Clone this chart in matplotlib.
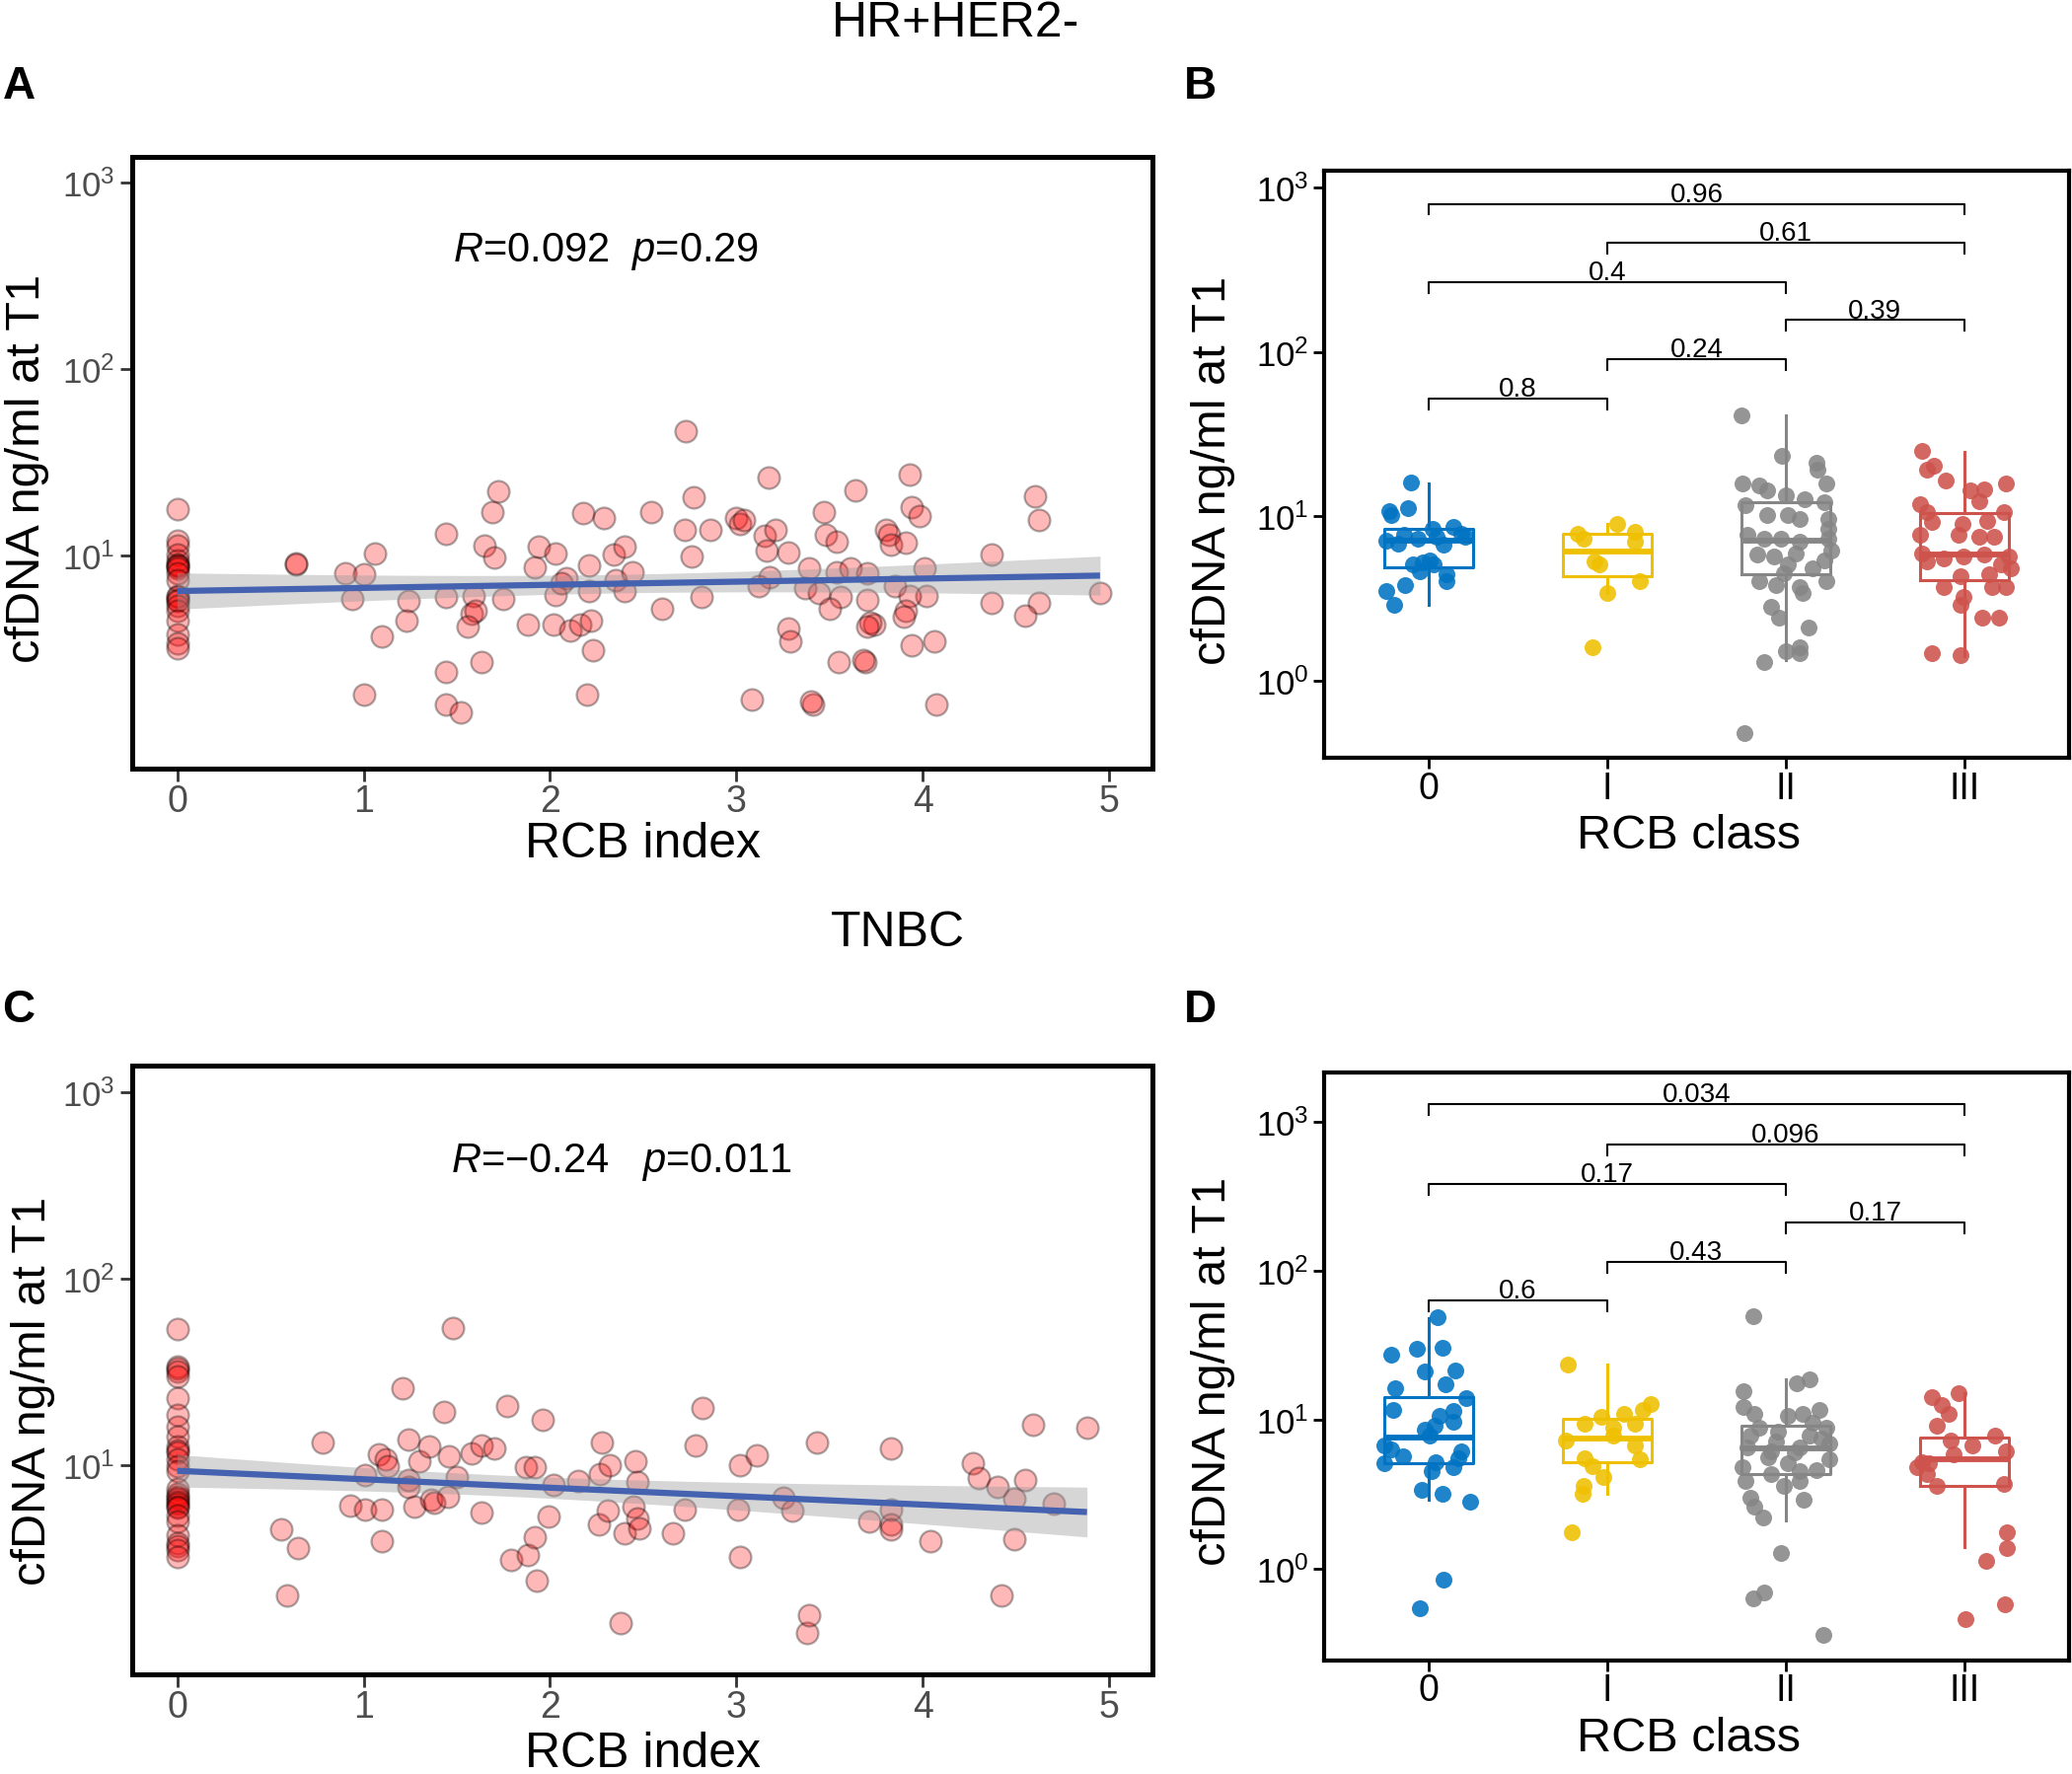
import numpy as np
import matplotlib
matplotlib.use('Agg')
import matplotlib.pyplot as plt
from matplotlib import font_manager as fm
from matplotlib.ticker import NullLocator

# ---------------- fonts ----------------
_names = {f.name for f in fm.fontManager.ttflist}
SANS = 'Liberation Sans' if 'Liberation Sans' in _names else 'DejaVu Sans'
NARROW = 'Liberation Sans Narrow' if 'Liberation Sans Narrow' in _names else SANS
plt.rcParams['font.family'] = [SANS, 'DejaVu Sans']
plt.rcParams['mathtext.fontset'] = 'custom'
plt.rcParams['mathtext.rm'] = SANS
plt.rcParams['mathtext.it'] = SANS + ':italic'
plt.rcParams['mathtext.default'] = 'regular'

# ---------------- data ----------------
# Panel A: HR+HER2-, RCB index vs cfDNA
hr_rcb_index = [
    0, 0, 0, 0, 0, 0, 0, 0, 0, 0, 0, 0, 0, 0, 0, 0, 0, 0, 0, 0, 0,
    0.64, 0.64, 0.90, 1.06, 1.00, 0.94, 1.10, 1.00,
    1.24, 1.23, 1.44, 1.44, 1.44, 1.44, 1.52, 1.63, 1.59, 1.58, 1.60, 1.56, 1.65, 1.70, 1.69, 1.72, 1.75,
    1.88, 1.92, 1.94, 2.03, 2.02, 2.03, 2.09, 2.06, 2.11, 2.18, 2.29, 2.21, 2.21, 2.16, 2.22, 2.23, 2.20,
    2.34, 2.40, 2.35, 2.40, 2.44, 2.54, 2.60,
    2.73, 2.77, 2.72, 2.86, 2.76, 2.81, 3.00, 3.02, 3.04, 3.15, 3.21, 3.16, 3.28, 3.17, 3.18, 3.12, 3.08,
    3.28, 3.29, 3.39, 3.37, 3.44, 3.41, 3.40, 3.47, 3.48, 3.54, 3.54, 3.61, 3.56, 3.50, 3.64, 3.70, 3.70,
    3.74, 3.72, 3.70, 3.55, 3.69, 3.68,
    3.80, 3.82, 3.83, 3.91, 3.85, 3.93, 3.94, 3.98, 4.01, 4.02, 3.93, 3.91, 3.90, 3.94, 4.06, 4.07,
    4.37, 4.37, 4.60, 4.62, 4.62, 4.55, 4.95]
hr_cfdna = [
    17.7, 12.1, 11.3, 10.1, 9.5, 9.0, 8.9, 8.8, 8.6, 8.1, 7.4, 6.1, 6.0, 5.8, 5.7, 5.4, 5.1, 4.5, 3.8, 3.4, 3.2,
    9.0, 9.1, 8.1, 10.3, 8.0, 5.9, 3.7, 1.8,
    5.7, 4.5, 13.1, 6.0, 2.4, 1.6, 1.45, 2.7, 6.1, 4.9, 5.1, 4.2, 11.4, 9.8, 17.1, 22.2, 5.9,
    4.3, 8.7, 11.2, 10.3, 4.3, 6.2, 7.6, 7.1, 4.0, 16.9, 15.9, 8.9, 6.5, 4.3, 4.5, 3.1, 1.8,
    10.1, 11.2, 7.4, 6.5, 8.2, 17.1, 5.2,
    46.3, 20.7, 13.8, 13.7, 9.9, 6.0, 15.9, 14.8, 15.6, 12.8, 13.7, 10.7, 10.4, 26.2, 7.7, 6.9, 1.7,
    4.1, 3.5, 8.6, 6.7, 6.3, 1.6, 1.65, 17.2, 12.9, 11.9, 8.2, 8.6, 6.0, 5.2, 22.4, 8.1, 5.8,
    4.3, 4.4, 4.2, 2.7, 2.7, 2.75,
    13.8, 13.0, 11.5, 11.8, 6.9, 27.3, 18.2, 16.4, 8.6, 6.1, 6.1, 5.1, 4.7, 3.3, 3.5, 1.6,
    10.1, 5.6, 20.9, 15.6, 5.6, 4.8, 6.3]
hr_stat_text = r'$\mathit{R}$=0.092  $\mathit{p}$=0.29'

# Panel C: TNBC, RCB index vs cfDNA
tn_rcb_index = [
    0, 0, 0, 0, 0, 0, 0, 0, 0, 0, 0, 0, 0, 0, 0, 0, 0, 0, 0, 0, 0, 0, 0, 0, 0, 0, 0, 0, 0, 0,
    0.78, 0.56, 0.65, 0.59, 0.93, 1.01, 1.01, 1.10, 1.10, 1.08, 1.12, 1.13,
    1.21, 1.24, 1.24, 1.24, 1.27, 1.30, 1.35, 1.36, 1.38, 1.43, 1.45, 1.46, 1.48, 1.50,
    1.58, 1.63, 1.63, 1.70, 1.77, 1.79, 1.87, 1.88, 1.92, 1.92, 1.93, 1.96, 1.99, 2.02, 2.15,
    2.26, 2.27, 2.28, 2.31, 2.32, 2.38, 2.40, 2.45, 2.46, 2.47, 2.47, 2.48,
    2.66, 2.72, 2.78, 2.82, 3.01, 3.02, 3.02, 3.11, 3.25, 3.30, 3.38, 3.39, 3.43,
    3.71, 3.83, 3.83, 3.83, 3.83, 4.04, 4.27, 4.30, 4.40, 4.42, 4.49, 4.49, 4.55, 4.59, 4.70, 4.88]
tn_cfdna = [
    54, 34, 33, 32, 30, 23, 18.6, 16.1, 14.3, 12.6, 12.0, 11.7, 10.8, 9.9, 9.3, 7.5, 7.0, 6.8, 6.6, 6.4,
    6.2, 6.0, 5.9, 5.4, 5.0, 4.2, 3.8, 3.7, 3.5, 3.2,
    13.3, 4.5, 3.6, 2.0, 6.1, 8.9, 5.8, 5.8, 3.9, 11.4, 10.8, 9.9,
    25.8, 13.7, 8.3, 7.6, 6.0, 10.5, 12.6, 6.5, 6.3, 19.4, 6.8, 11.2, 54.6, 8.6,
    11.5, 12.8, 5.6, 12.3, 20.8, 3.1, 9.8, 3.3, 9.7, 4.1, 2.4, 17.6, 5.3, 7.8, 8.2,
    4.8, 9.0, 13.3, 5.7, 10.0, 1.42, 4.3, 6.0, 10.5, 8.1, 5.2, 4.6,
    4.3, 5.8, 12.7, 20.2, 5.8, 10.0, 3.2, 11.3, 6.7, 5.7, 1.26, 1.56, 13.2,
    5.0, 12.3, 5.8, 4.8, 4.5, 3.9, 10.3, 8.5, 7.6, 2.0, 6.6, 4.0, 8.3, 16.5, 6.2, 15.8]
tn_stat_text = r'$\mathit{R}$=−0.24   $\mathit{p}$=0.011'

# Panels B / D: RCB class groups
rcb_classes = ['0', 'I', 'II', 'III']
class_colors = ['#0073C2', '#EFC000', '#868686', '#CD534C']

# Panel B (HR+HER2-): jitter offset and value per class
hr_c0_jit = [-0.10, -0.115, -0.22, -0.21, -0.236, -0.17, -0.06, 0.02, 0.045, 0.14, 0.18, -0.035,
             0.03, -0.05, 0.10, 0.10, -0.13, -0.236, -0.195, 0.005, -0.14, 0.086, -0.088, 0.206]
hr_c0_val = [16.0, 11.2, 10.7, 10.1, 7.1, 6.8, 7.3, 8.4, 7.5, 8.6, 7.8, 5.2,
             5.1, 4.6, 4.4, 4.0, 3.8, 3.5, 2.9, 5.4, 7.7, 6.7, 5.1, 7.5]
hr_c1_jit = [0.054, -0.166, -0.131, 0.155, 0.155, -0.072, -0.046, 0.182, 0.003, -0.080]
hr_c1_val = [9.0, 7.8, 7.3, 8.0, 7.0, 5.3, 5.1, 4.0, 3.4, 1.6]
hr_c2_jit = [-0.246, -0.021, 0.174, 0.179, 0.228, -0.241, -0.147, -0.107, 0.0, 0.107, 0.214, -0.228,
             -0.107, 0.013, 0.08, 0.24, 0.24, -0.214, -0.12, -0.027, 0.08, 0.24, 0.254, -0.16,
             -0.067, 0.054, 0.214, 0.013, 0.147, -0.013, -0.147, -0.054, 0.08, 0.228, 0.094,
             -0.08, -0.04, 0.129, 0.08, 0.0, 0.08, -0.121, -0.233]
hr_c2_val = [40.8, 23.2, 21.1, 19.3, 15.7, 15.7, 15.3, 14.3, 13.3, 12.7, 12.2, 11.6,
             10.1, 10.1, 9.6, 9.6, 8.4, 7.7, 7.3, 7.3, 7.0, 7.3, 6.2, 5.8,
             5.7, 5.9, 5.4, 5.1, 4.8, 4.5, 4.0, 3.8, 3.7, 4.0, 3.4,
             2.8, 2.4, 2.1, 1.6, 1.5, 1.46, 1.3, 0.48]
hr_c3_jit = [-0.236, -0.21, -0.17, -0.102, 0.032, 0.113, 0.233, 0.086, -0.25, -0.21, 0.22, -0.183,
             -0.008, 0.126, -0.25, -0.035, 0.086, 0.166, -0.236, -0.115, -0.003, 0.113, 0.247,
             -0.21, 0.206, 0.26, -0.022, 0.14, -0.115, 0.153, 0.233, -0.003, -0.022, 0.099,
             0.193, -0.182, -0.022]
hr_c3_val = [24.8, 19.3, 20.2, 16.4, 14.3, 14.6, 15.7, 12.4, 11.9, 10.6, 10.6, 9.2,
             9.0, 9.4, 7.7, 7.7, 7.5, 7.5, 5.9, 5.5, 5.7, 5.8, 5.7,
             5.3, 5.1, 4.8, 4.3, 4.4, 3.7, 3.7, 3.7, 3.2, 2.9, 2.4,
             2.4, 1.46, 1.43]
hr_box_q1 = [4.9, 4.3, 4.4, 4.1]
hr_box_med = [7.1, 6.1, 7.1, 5.8]
hr_box_q3 = [8.4, 7.8, 12.2, 10.5]
hr_box_lo = [2.9, 3.4, 1.33, 1.4]
hr_box_hi = [15.8, 9.0, 41.0, 24.5]
hr_pairs = [(0, 3), (1, 3), (0, 2), (2, 3), (1, 2), (0, 1)]
hr_pvals = ['0.96', '0.61', '0.4', '0.39', '0.24', '0.8']
hr_bracket_y = [794, 462, 265, 156, 90, 52]

# Panel D (TNBC)
tn_c0_jit = [0.051, -0.209, -0.067, 0.078, -0.021, 0.147, 0.094, -0.19, 0.212, -0.201, 0.139, 0.059,
             0.139, 0.032, -0.021, 0.005, -0.249, -0.209, -0.142, 0.180, 0.166, 0.040, -0.249,
             0.139, 0.019, -0.040, 0.078, 0.233, 0.086, -0.048]
tn_c0_val = [49.1, 27.2, 29.9, 30.4, 21.2, 21.4, 17.2, 16.2, 13.9, 11.7, 11.4, 10.7,
             9.7, 9.1, 8.6, 7.8, 6.7, 6.3, 5.7, 6.1, 5.5, 5.2, 5.1,
             4.8, 4.5, 3.4, 3.2, 2.8, 0.84, 0.54]
tn_c1_jit = [-0.218, 0.244, 0.201, 0.094, -0.032, -0.124, 0.155, 0.035, -0.232, 0.035, 0.155, -0.124,
             0.182, -0.085, -0.019, -0.131, -0.137, -0.199]
tn_c1_val = [23.6, 12.7, 11.7, 11.0, 10.4, 9.4, 9.4, 8.9, 7.3, 7.8, 6.7, 5.5,
             5.4, 4.9, 4.1, 3.6, 3.2, 1.77]
tn_c2_jit = [-0.183, 0.134, 0.062, -0.236, 0.188, -0.236, -0.177, 0.013, 0.094, 0.228, -0.15, -0.043,
             0.134, 0.241, -0.054, -0.214, 0.08, -0.08, 0.241, -0.242, 0.013, 0.08, -0.08, -0.228,
             -0.013, 0.08, -0.2, 0.102, -0.174, -0.126, -0.027, -0.12, -0.183, 0.209,
             0.15, 0.2, -0.1, 0.05, 0.17, -0.2]
tn_c2_val = [49.8, 18.7, 17.6, 15.5, 11.7, 12.1, 11.0, 10.7, 11.0, 8.9, 8.9, 8.3,
             7.8, 6.9, 7.1, 6.5, 6.5, 6.1, 5.4, 4.8, 5.1, 4.5, 4.3, 3.9,
             3.6, 3.9, 3.0, 2.9, 2.6, 2.2, 1.27, 0.69, 0.63, 0.36,
             9.5, 7.5, 5.6, 6.0, 4.6, 7.8]
tn_c3_jit = [-0.035, -0.182, -0.129, -0.088, -0.155, 0.174, -0.075, 0.046, 0.233, -0.062, -0.236,
             -0.196, -0.263, -0.21, -0.155, 0.22, 0.239, 0.239, 0.12, 0.228, 0.005]
tn_c3_val = [15.2, 14.1, 12.5, 11.0, 9.1, 7.8, 7.3, 6.7, 6.1, 5.9, 5.2,
             5.1, 4.8, 4.3, 3.6, 3.7, 1.77, 1.38, 1.13, 0.58, 0.46]
tn_box_q1 = [5.1, 5.2, 4.3, 3.6]
tn_box_med = [7.6, 7.5, 6.4, 5.4]
tn_box_q3 = [14.1, 10.2, 9.1, 7.6]
tn_box_lo = [2.9, 3.2, 2.1, 1.4]
tn_box_hi = [48.0, 23.3, 18.7, 15.0]
tn_pairs = [(0, 3), (1, 3), (0, 2), (2, 3), (1, 2), (0, 1)]
tn_pvals = ['0.034', '0.096', '0.17', '0.17', '0.43', '0.6']
tn_bracket_y = [1312, 708, 385, 212, 115, 63]

# ---------------- figure ----------------
W, H = 2100, 1799
fig = plt.figure(figsize=(W / 100, H / 100), dpi=100)


def add_axes_px(l, t, r, b):
    return fig.add_axes([l / W, 1 - b / H, (r - l) / W, (b - t) / H])


def px_to_axes(ax_box, x, y):
    l, t, r, b = ax_box
    return (x - l) / (r - l), (b - y) / (b - t)


BOX_A = (134, 159.6, 1168, 779.5)
BOX_B = (1341.5, 174, 2097, 769)
BOX_C = (134, 1081, 1168, 1698)
BOX_D = (1341.5, 1088, 2097, 1684)

GRAY_TXT = '#4D4D4D'


def style_frame(ax, lw):
    for s in ax.spines.values():
        s.set_linewidth(lw)
        s.set_color('black')


def scatter_panel(box, xs, ys, ylim, stat_text, stat_pos, ylab_px, xlab_px):
    ax = add_axes_px(*box)
    x = np.asarray(xs, float)
    y = np.asarray(ys, float)
    ax.scatter(x, y, s=250, facecolor=(1, 0, 0, 0.28), edgecolor=(0, 0, 0, 0.33),
               linewidth=1.6, zorder=3)
    ly = np.log10(y)
    n = len(x)
    slope, icpt = np.polyfit(x, ly, 1)
    gx = np.linspace(x.min(), x.max(), 120)
    fit = icpt + slope * gx
    resid = ly - (icpt + slope * x)
    sd = np.sqrt(np.sum(resid ** 2) / (n - 2))
    se = sd * np.sqrt(1 / n + (gx - x.mean()) ** 2 / np.sum((x - x.mean()) ** 2))
    ax.fill_between(gx, 10 ** (fit - 1.98 * se), 10 ** (fit + 1.98 * se),
                    color='#999999', alpha=0.4, lw=0, zorder=4)
    ax.plot(gx, 10 ** fit, color='#4462B0', lw=4.5, zorder=5, solid_capstyle='butt')
    ax.set_yscale('log')
    ax.set_xlim(-0.241, 5.231)
    ax.set_ylim(*ylim)
    ax.set_xticks([0, 1, 2, 3, 4, 5], ['0', '1', '2', '3', '4', '5'],
                  fontsize=27, fontfamily=NARROW, color=GRAY_TXT)
    ax.set_yticks([10, 100, 1000], [r'$10^{1}$', r'$10^{2}$', r'$10^{3}$'],
                  fontsize=25, fontfamily=NARROW, color=GRAY_TXT)
    ax.yaxis.set_minor_locator(NullLocator())
    ax.tick_params(axis='both', length=9, width=2, color='#333333')
    ax.tick_params(axis='x', pad=2)
    ax.tick_params(axis='y', pad=4)
    style_frame(ax, 3.6)
    ax.text(stat_pos[0], stat_pos[1], stat_text, fontsize=30, ha='left', va='center', zorder=6)
    ax.set_ylabel('cfDNA ng/ml at T1', fontsize=35)
    ax.yaxis.label.set_va('center')
    ax.yaxis.set_label_coords(*px_to_axes(box, *ylab_px))
    ax.set_xlabel('RCB index', fontsize=36)
    ax.xaxis.label.set_va('center')
    ax.xaxis.set_label_coords(*px_to_axes(box, *xlab_px))
    return ax


def box_panel(box, jits, vals, q1, med, q3, lo, hi, pairs, pvals, br_y, tick_dec, ylim,
              ylab_px, xlab_px):
    ax = add_axes_px(*box)
    for k in range(4):
        c = class_colors[k]
        st = [dict(med=med[k], q1=q1[k], q3=q3[k], whislo=lo[k], whishi=hi[k], fliers=[])]
        ax.bxp(st, positions=[k], widths=0.5, showfliers=False, showcaps=False,
               boxprops=dict(color=c, lw=2.2), whiskerprops=dict(color=c, lw=2.2),
               medianprops=dict(color=c, lw=4.2, solid_capstyle='butt'),
               manage_ticks=False, zorder=2)
        px = k + np.asarray(jits[k])
        ax.scatter(px, vals[k], s=150, color=c, alpha=0.88, lw=0, zorder=3)
    for (i, j), lab, yv in zip(pairs, pvals, br_y):
        yt = yv / 10 ** tick_dec
        ax.plot([i, i, j, j], [yt, yv, yv, yt], color='black', lw=1.5, zorder=6)
        ax.annotate(lab, xy=((i + j) / 2, yv), xytext=(0, 2.0), textcoords='offset points',
                    ha='center', va='baseline', fontsize=20, zorder=7)
    ax.set_yscale('log')
    ax.set_xlim(-0.588, 3.586)
    ax.set_ylim(*ylim)
    ax.set_xticks([0, 1, 2, 3], rcb_classes, fontsize=27)
    ax.set_yticks([1, 10, 100, 1000], [r'$10^{0}$', r'$10^{1}$', r'$10^{2}$', r'$10^{3}$'],
                  fontsize=25)
    ax.yaxis.set_minor_locator(NullLocator())
    ax.tick_params(axis='both', length=8, width=2, color='black', labelcolor='black')
    ax.tick_params(axis='x', pad=1)
    ax.tick_params(axis='y', pad=3)
    style_frame(ax, 3.0)
    ax.set_ylabel('cfDNA ng/ml at T1', fontsize=35)
    ax.yaxis.label.set_va('center')
    ax.yaxis.set_label_coords(*px_to_axes(box, *ylab_px))
    ax.set_xlabel('RCB class', fontsize=35)
    ax.xaxis.label.set_va('center')
    ax.xaxis.set_label_coords(*px_to_axes(box, *xlab_px))
    return ax


axA = scatter_panel(BOX_A, hr_rcb_index, hr_cfdna, (0.728, 1380), hr_stat_text, (1.48, 431),
                    (27, 475), (652, 856.5))
axC = scatter_panel(BOX_C, tn_rcb_index, tn_cfdna, (0.755, 1390), tn_stat_text, (1.47, 427),
                    (33, 1410), (652, 1778))
axB = box_panel(BOX_B, [hr_c0_jit, hr_c1_jit, hr_c2_jit, hr_c3_jit],
                [hr_c0_val, hr_c1_val, hr_c2_val, hr_c3_val],
                hr_box_q1, hr_box_med, hr_box_q3, hr_box_lo, hr_box_hi,
                hr_pairs, hr_pvals, hr_bracket_y, 0.064, (0.338, 1268),
                (1229, 476.5), (1712, 847))
axD = box_panel(BOX_D, [tn_c0_jit, tn_c1_jit, tn_c2_jit, tn_c3_jit],
                [tn_c0_val, tn_c1_val, tn_c2_val, tn_c3_val],
                tn_box_q1, tn_box_med, tn_box_q3, tn_box_lo, tn_box_hi,
                tn_pairs, tn_pvals, tn_bracket_y, 0.073, (0.242, 2143),
                (1229, 1390), (1712, 1763))

# titles and panel letters
def fig_text(x, y, s, **kw):
    fig.text(x / W, 1 - y / H, s, ha='center', va='center', **kw)

fig_text(969, 24, 'HR+HER2-', fontsize=36)
fig_text(910, 946, 'TNBC', fontsize=36)
fig_text(19, 88.5, 'A', fontsize=33, fontweight='bold')
fig_text(1216.5, 88.5, 'B', fontsize=33, fontweight='bold')
fig_text(19, 1024.5, 'C', fontsize=33, fontweight='bold')
fig_text(1216.5, 1024.5, 'D', fontsize=33, fontweight='bold')

fig.savefig('out.png', dpi=100)
